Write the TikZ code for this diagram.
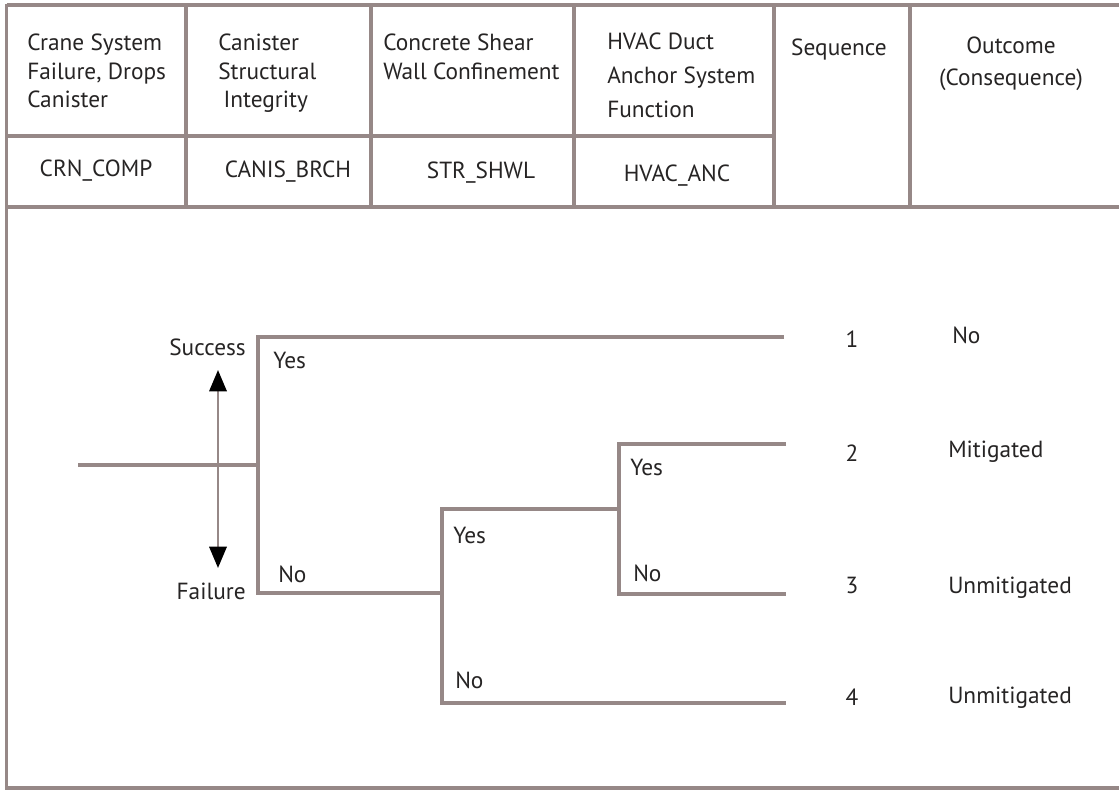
\documentclass[tikz,border=0pt]{standalone}
\usepackage{fontspec}
\setmainfont{PT Sans}
\usepackage{tikz}
\usetikzlibrary{arrows.meta}
\definecolor{rulegray}{RGB}{150,136,135}
\definecolor{inkgray}{RGB}{38,36,36}

\begin{document}
\begin{tikzpicture}[x=0.75pt,y=-0.75pt,
  ln/.style={line width=2.6pt,rulegray},
  txt/.style={inner sep=0pt,text=inkgray,font=\fontsize{17.5}{21}\selectfont},
  cell/.style={txt,anchor=north west,align=left},
  lbl/.style={txt,anchor=base west},
  num/.style={txt,anchor=base}]
\useasboundingbox (0,0) rectangle (1119,790);
\fill[white] (0,0) rectangle (1119,790);
\draw[ln] (6.5,5) -- (1119,5);
\draw[ln] (6.5,4) -- (6.5,788) -- (1119,788);
\draw[ln] (6.5,207) -- (1119,207);
\draw[ln] (6.5,136) -- (774,136);
\foreach \x in {186,371,574,774,910}
  \draw[ln] (\x,5) -- (\x,207);

\node[cell,font=\fontsize{17.5}{21.4}\selectfont] (crane) at (27,34) {Crane System\\Failure, Drops\\Canister};
\node[cell,font=\fontsize{17.5}{21.4}\selectfont] (canister) at (218,34) {Canister\\Structural\\\hspace{4pt}Integrity};
\node[cell,font=\fontsize{17.5}{21.8}\selectfont] (shear) at (383,34) {Concrete Shear\\Wall Confinement};
\node[cell,font=\fontsize{17.5}{25.5}\selectfont] (hvac) at (607,33) {HVAC Duct\\Anchor System\\Function};
\node[num] (seq) at (839,55) {Sequence};
\node[txt,anchor=north,align=center,font=\fontsize{17.5}{24}\selectfont] (outc) at (1011,37) {Outcome\\(Consequence)};

\node[num] (crncomp) at (96,176) {CRN\_COMP};
\node[num] (canisbrch) at (288,177) {CANIS\_BRCH};
\node[num] (strshwl) at (481,178) {STR\_SHWL};
\node[num] (hvacanc) at (677,181) {HVAC\_ANC};

\coordinate (start) at (78,465);
\coordinate (crn) at (258,465);
\coordinate (crnY) at (258,337);
\coordinate (crnN) at (258,593);
\coordinate (canis) at (442,593);
\coordinate (canisY) at (442,509);
\coordinate (canisN) at (442,703);
\coordinate (shwl) at (619,509);
\coordinate (shwlY) at (619,444);
\coordinate (shwlN) at (619,594);
\coordinate (end1) at (784,337);
\coordinate (end2) at (786,444);
\coordinate (end3) at (786,594);
\coordinate (end4) at (786,703);

\draw[ln] (start) -- (crn);
\draw[ln] (end1) -- (crnY) -- (crnN) -- (canis);
\draw[ln] (shwl) -- (canisY) -- (canisN) -- (end4);
\draw[ln] (end2) -- (shwlY) -- (shwlN) -- (end3);

\coordinate (up) at (218,370);
\coordinate (down) at (218,568);
\draw[line width=1.8pt,rulegray,{Triangle[width=13pt,length=16pt,color=black]}-{Triangle[width=13pt,length=16pt,color=black]}] (up) -- (down);

\node[txt,anchor=base east] (success) at (246,355) {Success};
\node[txt,anchor=base east] (failure) at (246,599) {Failure};

\node[lbl] (yes1) at (273,368) {Yes};
\node[lbl] (no1) at (278,582) {No};
\node[lbl] (yes2) at (453,543) {Yes};
\node[lbl] (no2) at (455,688) {No};
\node[lbl] (yes3) at (630,475) {Yes};
\node[lbl] (no3) at (633,581) {No};

\node[num] (s1) at (852,347) {1};
\node[num] (s2) at (852,461) {2};
\node[num] (s3) at (852,593) {3};
\node[num] (s4) at (852,705) {4};

\node[lbl] (o1) at (952,343) {No};
\node[lbl] (o2) at (948,457) {Mitigated};
\node[lbl] (o3) at (948,593) {Unmitigated};
\node[lbl] (o4) at (948,703) {Unmitigated};
\end{tikzpicture}
\end{document}
